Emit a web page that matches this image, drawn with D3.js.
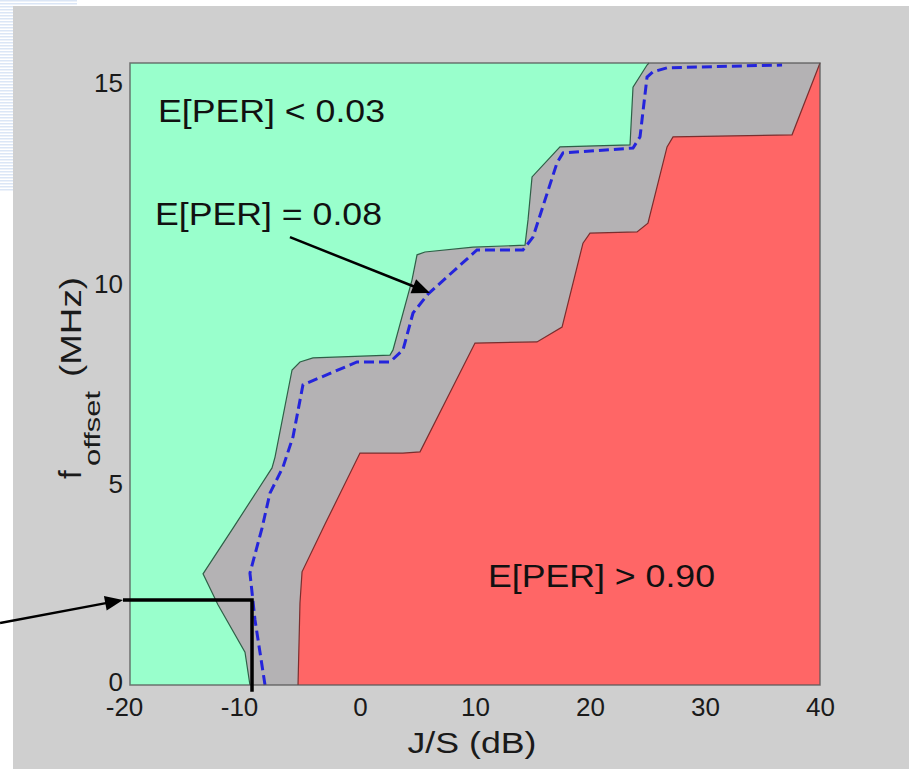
<!DOCTYPE html>
<html><head><meta charset="utf-8">
<script src="https://cdn.jsdelivr.net/npm/d3@7"></script>
<style>
body{margin:0;background:#fff;}
svg{display:block;}
text{font-family:"Liberation Sans", Arial, Helvetica, sans-serif;}
</style>
</head><body>
<svg id="chart" width="909" height="769"></svg>
<script>
// ---------- data ----------
const xDomain = [-20, 40];
const yDomain = [0, 15.5];
const xTicks = [-20, -10, 0, 10, 20, 30, 40];
const yTicks = [0, 5, 10, 15];

// edge between E[PER]<0.03 region and the grey band  [J/S dB, f_offset MHz]
const lowEdge = [
  [-9.57,0],[-10.0,0.82],[-12.35,2.0],[-13.65,2.77],[-11.04,3.91],[-7.65,5.41],
  [-7.39,5.68],[-5.91,7.85],[-5.22,8.05],[-4.09,8.15],[2.61,8.22],[2.87,8.35],
  [4.52,10.09],[4.96,10.72],[5.65,10.79],[9.83,10.91],[14.35,10.96],[14.61,11.59],
  [14.96,12.66],[17.39,13.41],[23.48,13.46],[23.74,14.90],[24.96,15.45],[25.13,15.5]
];
// edge between grey band and E[PER]>0.90 region
const highEdge = [
  [-5.39,0],[-5.22,2.04],[-5.04,2.82],[-3.04,4.01],[0.0,5.78],[3.74,5.78],
  [5.22,5.81],[10.0,8.52],[15.39,8.55],[17.57,8.92],[19.39,11.01],[20.0,11.26],
  [24.09,11.29],[25.04,11.51],[26.7,13.41],[27.22,13.66],[37.57,13.71],[40,15.5]
];
// E[PER] = 0.08 contour
const contour = [
  [-8.26,0],[-9.13,1.62],[-9.57,2.79],[-8.52,3.91],[-7.83,4.78],[-6.70,5.43],
  [-5.83,6.18],[-4.96,7.48],[-0.26,8.05],[2.61,8.05],[3.74,8.35],[4.61,9.27],
  [5.91,9.74],[10.17,10.84],[14.17,10.84],[15.04,11.16],[17.13,13.01],[17.65,13.26],
  [23.74,13.38],[24.35,13.66],[24.96,15.15],[25.48,15.28],[26.7,15.38],[36.7,15.45]
];
const regionLabels = ["E[PER] < 0.03", "E[PER] = 0.08", "E[PER] > 0.90"];
const xLabel = "J/S (dB)";
const yLabelMain = "f", yLabelSub = "offset", yLabelUnit = "(MHz)";
// annotation arrows (data coordinates)
const arrowContour = [[-6.09,11.16],[6.09,9.77]];
const arrowMarker = [[-31.3,1.545],[-20.61,2.12]];
const markerElbow = [[-20.61,2.12],[-9.39,2.12],[-9.39,-0.17]];

// ---------- drawing ----------
const svg = d3.select("#chart");
const L = 130, R = 820, T = 63, B = 685;
const x = d3.scaleLinear().domain(xDomain).range([L, R]);
const y = d3.scaleLinear().domain(yDomain).range([B, T]);

// light striped slide background in top-left
const stripes = svg.append("g");
for (let yy = 0; yy < 190; yy += 3) {
  stripes.append("rect").attr("x", 0).attr("y", yy).attr("width", 13).attr("height", 1.5).attr("fill", "#dbe6f6");
}
for (let yy = 0; yy < 6; yy += 3) {
  stripes.append("rect").attr("x", 13).attr("y", yy).attr("width", 64).attr("height", 1.5).attr("fill", "#dbe6f6");
}
// figure background
svg.append("rect").attr("x", 13).attr("y", 6).attr("width", 896).attr("height", 763).attr("fill", "#cfcfcf");

// plot area: green background
svg.append("rect").attr("x", L).attr("y", T).attr("width", R - L).attr("height", B - T).attr("fill", "#99ffcc");

const line = d3.line().x(d => x(d[0])).y(d => y(d[1]));

// grey band
const greyPoly = lowEdge.concat([[40,15.5],[40,0]]);
svg.append("path").attr("d", line(greyPoly) + "Z").attr("fill", "#b4b2b4");
// red region
const redPoly = highEdge.concat([[40,0]]);
svg.append("path").attr("d", line(redPoly) + "Z").attr("fill", "#ff6666");

// region edges
svg.append("path").attr("d", line(lowEdge)).attr("fill", "none")
  .attr("stroke", "#2f5f47").attr("stroke-width", 1.2);
svg.append("path").attr("d", line(highEdge)).attr("fill", "none")
  .attr("stroke", "#7a2e2e").attr("stroke-width", 1.2);

// contour dashed line
svg.append("path").attr("d", line(contour)).attr("fill", "none")
  .attr("stroke", "#2424dc").attr("stroke-width", 3)
  .attr("stroke-dasharray", "10,5");

// plot box
svg.append("rect").attr("x", L).attr("y", T).attr("width", R - L).attr("height", B - T)
  .attr("fill", "none").attr("stroke", "#555").attr("stroke-opacity", 0.8).attr("stroke-width", 1.5);

// axes
const xAxis = svg.append("g").attr("transform", `translate(0,${B})`)
  .call(d3.axisBottom(x).tickValues(xTicks).tickSize(0).tickPadding(13).tickFormat(d => String(d)));
const yAxis = svg.append("g").attr("transform", `translate(${L},0)`)
  .call(d3.axisLeft(y).tickValues(yTicks).tickSize(0).tickPadding(7).tickFormat(d => String(d)));
[xAxis, yAxis].forEach(g => {
  g.select(".domain").remove();
  g.selectAll("text").attr("font-size", 26).attr("fill", "#1a1a1a")
    .attr("font-family", '"Liberation Sans", Arial, sans-serif');
});
xAxis.selectAll(".tick text").attr("dx", d => d < 0 ? -6 : 0);
yAxis.selectAll(".tick text").filter(d => d === 0).attr("dy", "0.2em");

// axis labels
svg.append("text").attr("x", 472).attr("y", 753).attr("text-anchor", "middle")
  .attr("font-size", 29).attr("fill", "#1a1a1a")
  .attr("textLength", 129).attr("lengthAdjust", "spacingAndGlyphs").text(xLabel);

const yl = svg.append("g").attr("transform", "translate(81,479) rotate(-90)");
yl.append("text").attr("x", 0).attr("y", 0).attr("font-size", 31).attr("fill", "#1a1a1a").text(yLabelMain);
yl.append("text").attr("x", 13).attr("y", 19).attr("font-size", 22).attr("fill", "#1a1a1a")
  .attr("textLength", 75).attr("lengthAdjust", "spacingAndGlyphs").text(yLabelSub);
yl.append("text").attr("x", 102).attr("y", 0).attr("font-size", 30).attr("fill", "#1a1a1a")
  .attr("textLength", 100).attr("lengthAdjust", "spacingAndGlyphs").text(yLabelUnit);

// region labels
const labelPos = [[158,122],[155,225],[488,587]];
regionLabels.forEach((t, i) => {
  svg.append("text").attr("x", labelPos[i][0]).attr("y", labelPos[i][1])
    .attr("font-size", 31).attr("fill", "#111")
    .attr("textLength", 227).attr("lengthAdjust", "spacingAndGlyphs").text(t);
});

// arrows
function arrow(pts, width) {
  const p0 = [x(pts[0][0]), y(pts[0][1])], p1 = [x(pts[1][0]), y(pts[1][1])];
  const dx = p1[0] - p0[0], dy = p1[1] - p0[1], len = Math.hypot(dx, dy);
  const ux = dx / len, uy = dy / len, hl = 18, hw = 7.5;
  const bx = p1[0] - ux * hl, by = p1[1] - uy * hl;
  svg.append("line").attr("x1", p0[0]).attr("y1", p0[1]).attr("x2", bx + ux * 2).attr("y2", by + uy * 2)
    .attr("stroke", "#000").attr("stroke-width", width);
  svg.append("path").attr("d",
    `M${p1[0]},${p1[1]}L${bx - uy * hw},${by + ux * hw}L${bx + uy * hw},${by - ux * hw}Z`)
    .attr("fill", "#000");
}
arrow(arrowContour, 2.5);
arrow(arrowMarker, 2.5);
svg.append("path").attr("d", line(markerElbow)).attr("fill", "none")
  .attr("stroke", "#000").attr("stroke-width", 3.5);
</script>
</body></html>
